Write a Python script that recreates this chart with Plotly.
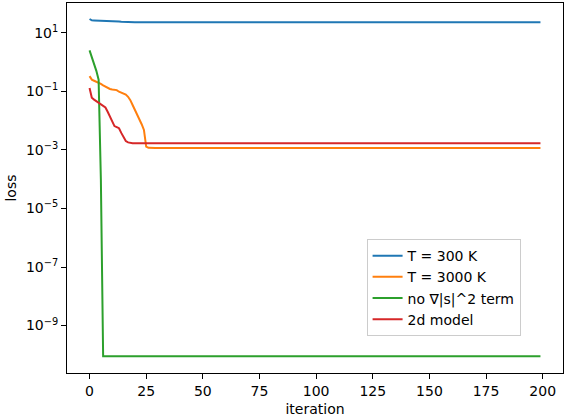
import plotly.graph_objects as go

# iteration axis
iterations = list(range(200))

# T = 300 K (blue)
loss_300 = [29.5, 26.5, 26.3, 26.2, 26.1, 26.0, 25.9, 25.9, 25.8, 25.7,
            25.6, 25.3, 24.8, 24.2, 23.6, 23.3, 23.1] + [23.0] * 183

# T = 3000 K (orange)
loss_3000 = [0.33, 0.25, 0.23, 0.215, 0.2, 0.18, 0.16, 0.145, 0.13, 0.12,
             0.115, 0.112, 0.11, 0.097, 0.09, 0.085, 0.077, 0.065, 0.05, 0.034,
             0.024, 0.017, 0.011, 0.0075, 0.0048, 0.0013, 0.00118] + [0.00115] * 173

# no grad term (green)
loss_nograd = [2.5, 1.5, 0.9, 0.5, 0.25, 1e-4] + [9e-11] * 194

# 2d model (red)
loss_2d = [0.13, 0.06, 0.052, 0.046, 0.041, 0.038, 0.034, 0.028, 0.02, 0.014,
           0.009, 0.0065, 0.006, 0.0055, 0.0038, 0.0027, 0.002, 0.0018] + [0.0017] * 182

series_names = ['T = 300 K', 'T = 3000 K', 'no ∇|s|^2 term', '2d model']
series_colors = ['#1f77b4', '#ff7f0e', '#2ca02c', '#d62728']

x_ticks = [0, 25, 50, 75, 100, 125, 150, 175, 200]
y_exps = [1, -1, -3, -5, -7, -9]

fig = go.Figure()
for name, vals, col in zip(series_names, [loss_300, loss_3000, loss_nograd, loss_2d], series_colors):
    fig.add_trace(go.Scatter(x=iterations, y=vals, mode='lines', name=name,
                             line=dict(color=col, width=2)))

axis_common = dict(showline=True, mirror=True, linecolor='black', linewidth=1,
                   ticks='outside', ticklen=5, tickwidth=1, tickcolor='black',
                   showgrid=False, zeroline=False, automargin=False,
                   tickfont=dict(size=14, color='black'),
                   title_font=dict(size=14, color='black'))

fig.update_layout(
    width=566, height=419,
    margin=dict(l=67, r=3, t=3, b=46),
    plot_bgcolor='white', paper_bgcolor='white',
    font=dict(family='DejaVu Sans', size=14, color='black'),
    xaxis=dict(range=[-9.95, 208.95], tickvals=x_ticks,
               title=dict(text='iteration', standoff=6), **axis_common),
    yaxis=dict(type='log', range=[-10.62, 2.016],
               tickvals=[10.0 ** e for e in y_exps],
               ticktext=['10<sup>%s</sup>' % ('−' + str(-e) if e < 0 else str(e)) for e in y_exps],
               title=dict(text='loss', standoff=6), **axis_common),
    legend=dict(x=0.604, y=0.362, xanchor='left', yanchor='top',
                bordercolor='#cccccc', borderwidth=1,
                bgcolor='rgba(255,255,255,0.8)', font=dict(size=14)),
)

# page body has an 8px default margin; drop it so the figure sits at the corner
fig.write_html("out.html", config={'displayModeBar': False},
               post_script="document.body.style.margin='0';")
